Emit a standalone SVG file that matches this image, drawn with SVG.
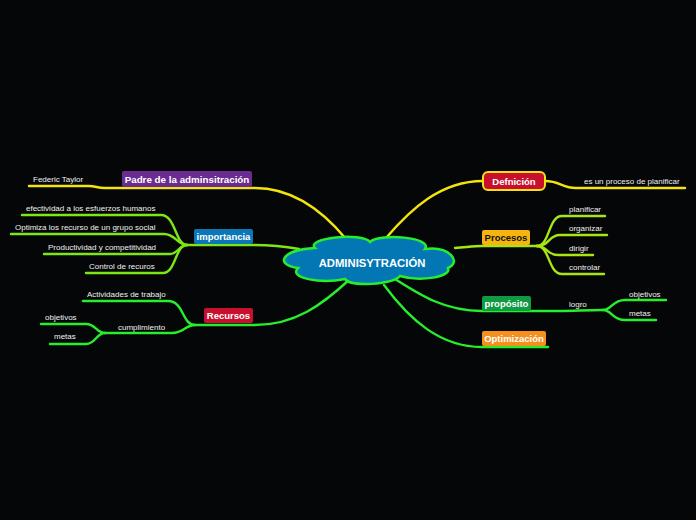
<svg xmlns="http://www.w3.org/2000/svg" width="696" height="520" viewBox="0 0 696 520">
<style>
.t{font-family:"Liberation Sans",Arial,sans-serif;font-size:8px;fill:#f0f0f0}
.b{font-family:"Liberation Sans",Arial,sans-serif;font-size:9.5px;font-weight:bold;fill:#ffffff;text-anchor:middle}
.c{fill:none;stroke-linecap:round}
.y{stroke:#f2e40c;stroke-width:2.4}
.lg{stroke:#7ee616;stroke-width:2.4}
.pg{stroke:#a6e612;stroke-width:2.4}
.g{stroke:#27ee2d;stroke-width:2.4}
</style>
<rect width="696" height="520" fill="#050608"/>
<g id="connectors">
<path class="c y" d="M346,239 C322,210 292,188 255,188 L104,188 C98,188 95,186 89,186 L29,186"/>
<path class="c lg" d="M299,249 C282,246 266,245 253,245 L187,245"/>
<path class="c lg" d="M187,245 C175,245 176,215 161,215 L22,215"/>
<path class="c lg" d="M187,245 C177,245 176,234 164,234 L11,234"/>
<path class="c lg" d="M187,245 C179,245 178,254 170,254 L44,254"/>
<path class="c lg" d="M187,245 C175,245 176,273 163,273 L86,273"/>
<path class="c g" d="M350,279 C322,305 295,325 255,325 L195,325"/>
<path class="c g" d="M195,325 C182,325 184,301 168,301 L83,301"/>
<path class="c g" d="M195,325 C185,325 184,333 172,333 L105,333"/>
<path class="c g" d="M105,333 C96,333 96,324 86,324 L41,324"/>
<path class="c g" d="M105,333 C96,333 96,344 86,344 L50,344"/>
<path class="c y" d="M386,238 C410,210 440,181 483,181"/>
<path class="c y" d="M545,181 C560,181 562,188 576,188 L685,188"/>
<path class="c pg" d="M455,248 C468,247 474,246 482,246 L537,246"/>
<path class="c pg" d="M537,246 C550,246 548,216 562,216 L605,216"/>
<path class="c pg" d="M537,246 C550,246 548,235 560,235 L607,235"/>
<path class="c pg" d="M537,246 C548,246 546,255 558,255 L593,255"/>
<path class="c pg" d="M537,246 C550,246 548,274 562,274 L604,274"/>
<path class="c g" d="M395,279 C420,295 445,311 482,311 L560,311 C575,311 585,310 603,310"/>
<path class="c g" d="M603,310 C612,310 612,300 625,300 L666,300"/>
<path class="c g" d="M603,310 C612,310 612,320 625,320 L656,320"/>
<path class="c g" d="M384,285 C410,320 440,347 482,347 L548,347"/>
</g>
<g id="center">
<path d="M315,248 C305,238 362,232 370,242 C380,233 433,237 425,249 C450,246 462,262 448,268 C452,277 420,282 400,276 C392,285 350,287 345,279 C320,284 288,278 298,268 C275,265 280,250 315,248 Z" fill="#0277b4" stroke="#27ee2d" stroke-width="2.5"/>
<text x="372" y="267" class="b" style="font-size:11.3px">ADMINISYTRACIÓN</text>
</g>
<g id="padre">
<rect x="122" y="171" width="130" height="16" rx="2" fill="#6b2c91"/>
<text x="187" y="182.5" class="b" style="font-size:9.8px">Padre de la adminsitración</text>
<text x="33" y="182" class="t">Federic Taylor</text>
</g>
<g id="importancia">
<rect x="194" y="229" width="59" height="15" rx="2" fill="#0b77b6"/>
<text x="223.5" y="239.5" class="b">importancia</text>
<text x="26" y="211" class="t">efectividad a los esfuerzos humanos</text>
<text x="15" y="230" class="t">Optimiza los recurso de un grupo social</text>
<text x="48" y="250" class="t">Productividad y competitividad</text>
<text x="89" y="269" class="t">Control de recuros</text>
</g>
<g id="recursos">
<rect x="204" y="308" width="49" height="15" rx="2" fill="#c8102e"/>
<text x="228.5" y="319" class="b">Recursos</text>
<text x="87" y="297" class="t">Actividades de trabajo</text>
<text x="118" y="330" class="t">cumplimiento</text>
<text x="45" y="320" class="t">objetivos</text>
<text x="54" y="339" class="t">metas</text>
</g>
<g id="definicion">
<rect x="483" y="172" width="62" height="18" rx="5" fill="#c8102e" stroke="#f2e40c" stroke-width="2"/>
<text x="514" y="184.5" class="b">Defnición</text>
<text x="584" y="184" class="t">es un proceso de planificar</text>
</g>
<g id="procesos">
<rect x="482" y="230" width="48" height="15" rx="2" fill="#f6b50e"/>
<text x="506" y="241" class="b" style="fill:#111">Procesos</text>
<text x="569" y="212" class="t">planificar</text>
<text x="569" y="231" class="t">organizar</text>
<text x="569" y="251" class="t">dirigir</text>
<text x="569" y="270" class="t">controlar</text>
</g>
<g id="proposito">
<rect x="482" y="296" width="49" height="15" rx="2" fill="#0f9a43"/>
<text x="506.5" y="307" class="b">propósito</text>
<text x="569" y="307" class="t">logro</text>
<text x="629" y="297" class="t">objetivos</text>
<text x="629" y="316" class="t">metas</text>
</g>
<g id="optimizacion">
<rect x="482" y="331" width="64" height="15" rx="2" fill="#f5901e"/>
<text x="514" y="342" class="b">Optimización</text>
</g>
</svg>
